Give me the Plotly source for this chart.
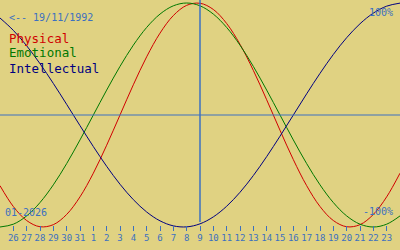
import plotly.graph_objects as go

# Days shown on the axis: 26 Dec 2025 .. 23 Jan 2026 (index 0..28); data also covers
# 25 Dec (index -1) and 24 Jan (index 29) so the curves reach the chart edges.
day_labels = ["26", "27", "28", "29", "30", "31", "1", "2", "3", "4", "5", "6", "7", "8", "9",
              "10", "11", "12", "13", "14", "15", "16", "17", "18", "19", "20", "21", "22", "23"]
day_index = list(range(-1, 30))

physical = [-0.6311, -0.8170, -0.9423, -0.9977, -0.9791, -0.8879, -0.7308, -0.5196, -0.2698,
            0.0, 0.2698, 0.5196, 0.7308, 0.8879, 0.9791, 0.9977, 0.9423, 0.8170, 0.6311,
            0.3984, 0.1362, -0.1362, -0.3984, -0.6311, -0.8170, -0.9423, -0.9977, -0.9791,
            -0.8879, -0.7308, -0.5196]
emotional = [-1.0, -0.9749, -0.9010, -0.7818, -0.6235, -0.4339, -0.2225, 0.0, 0.2225, 0.4339,
             0.6235, 0.7818, 0.9010, 0.9749, 1.0, 0.9749, 0.9010, 0.7818, 0.6235, 0.4339,
             0.2225, 0.0, -0.2225, -0.4339, -0.6235, -0.7818, -0.9010, -0.9749, -1.0,
             -0.9749, -0.9010]
intellectual = [0.8660, 0.7557, 0.6182, 0.4582, 0.2817, 0.0951, -0.0951, -0.2817, -0.4582,
                -0.6182, -0.7557, -0.8660, -0.9450, -0.9898, -0.9989, -0.9718, -0.9096,
                -0.8146, -0.6901, -0.5406, -0.3717, -0.1893, 0.0, 0.1893, 0.3717, 0.5406,
                0.6901, 0.8146, 0.9096, 0.9718, 0.9989]

birth_text = "<-- 19/11/1992"
month_text = "01-2026"
today_index = 14  # 9 Jan

BG = "#E0D282"
BLUE = "#3C70C0"
RED = "#D00000"
GREEN = "#007800"
NAVY = "#000080"
MONO = "DejaVu Sans Mono"

W, H = 400, 250

fig = go.Figure()
for vals, col in [(physical, RED), (emotional, GREEN), (intellectual, NAVY)]:
    fig.add_trace(go.Scatter(x=day_index, y=vals, mode="lines",
                             line=dict(color=col, width=1, shape="spline"),
                             hoverinfo="skip", showlegend=False))

fig.add_shape(type="line", xref="paper", x0=0, x1=1, yref="y", y0=0, y1=0,
              line=dict(color=BLUE, width=1))
fig.add_shape(type="line", xref="x", x0=today_index, x1=today_index, yref="y",
              y0=1.05, y1=-0.955, line=dict(color=BLUE, width=1.5))


def ann(text, px, py, color, size, xanchor="left"):
    fig.add_annotation(text=text, xref="paper", yref="paper", x=px / W, y=1 - py / H,
                       xanchor=xanchor, yanchor="middle", showarrow=False,
                       font=dict(family=MONO, size=size, color=color), borderpad=0)


ann(birth_text, 8, 17, BLUE, 10)
ann("Physical", 8, 38, RED, 12.5)
ann("Emotional", 8, 53, GREEN, 12.5)
ann("Intellectual", 8, 68, NAVY, 12.5)
ann(month_text, 4, 212, BLUE, 10)
ann("100%", 394, 12, BLUE, 10, "right")
ann("-100%", 394, 211, BLUE, 10, "right")

bottom_px = 231
fig.update_layout(
    width=W, height=H, margin=dict(l=0, r=0, t=0, b=0),
    paper_bgcolor=BG, plot_bgcolor=BG,
    xaxis=dict(range=[-1, 29], domain=[0, 1], tickvals=list(range(len(day_labels))),
               ticktext=day_labels, ticks="inside", ticklen=5, tickwidth=1, tickcolor=BLUE,
               showgrid=False, zeroline=False, showline=False,
               tickfont=dict(family=MONO, size=9, color=BLUE)),
    yaxis=dict(range=[-(bottom_px - 115) / 112, 115 / 112], domain=[(H - bottom_px) / H, 1],
               showgrid=False, zeroline=False, showticklabels=False, ticks=""),
)

fig.write_html("out.html")
